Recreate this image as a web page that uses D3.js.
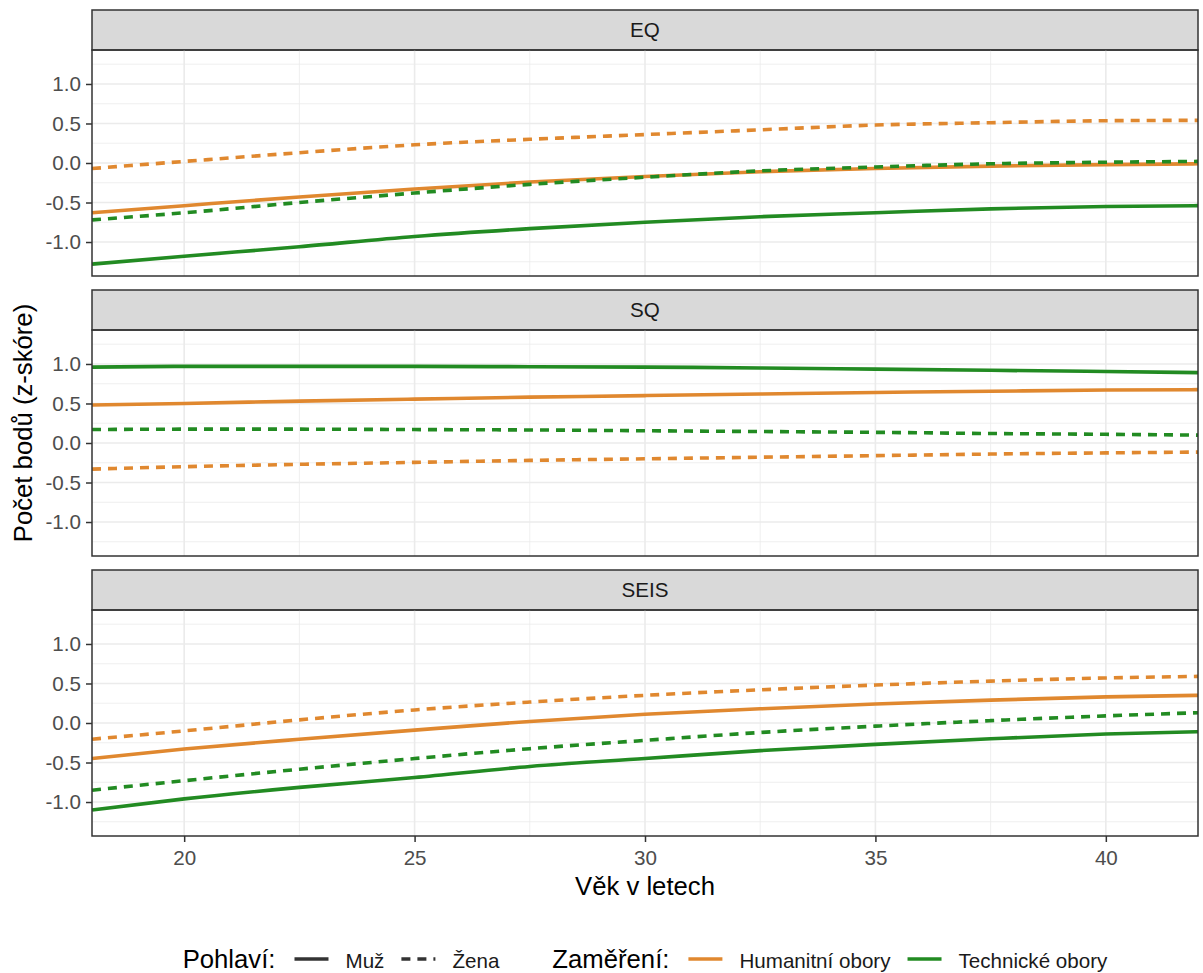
<!DOCTYPE html>
<html>
<head>
<meta charset="utf-8">
<script src="https://cdn.jsdelivr.net/npm/d3@7"></script>
<style>
	body { margin: 0; background: #fff; }
	svg text { font-family: "Liberation Sans", Arial, sans-serif; }
</style>
</head>
<body>
<svg id="graf" width="1203" height="973"></svg>
<script>
"use strict";

// data: věk (x) and z-score per facet / field / sex
const vek = [18, 20, 22.5, 25, 27.5, 30, 32.5, 35, 37.5, 40, 42];
const fasety = ["EQ", "SQ", "SEIS"];
const pohlavi = ["Muž", "Žena"];
const zamereni = ["Humanitní obory", "Technické obory"];
const xTicks = [20, 25, 30, 35, 40];
const yTicks = [-1, -0.5, 0, 0.5, 1];

const eqHumMuz    = [-0.63, -0.54, -0.43, -0.33, -0.24, -0.17, -0.11, -0.07, -0.04, -0.02, -0.01];
const eqHumZena   = [-0.07, 0.02, 0.13, 0.23, 0.30, 0.36, 0.42, 0.48, 0.51, 0.535, 0.54];
const eqTechMuz   = [-1.28, -1.18, -1.06, -0.93, -0.83, -0.75, -0.68, -0.63, -0.58, -0.55, -0.54];
const eqTechZena  = [-0.72, -0.63, -0.50, -0.38, -0.27, -0.18, -0.10, -0.05, -0.01, 0.01, 0.02];

const sqHumMuz    = [0.48, 0.50, 0.53, 0.555, 0.58, 0.60, 0.62, 0.64, 0.655, 0.67, 0.675];
const sqHumZena   = [-0.33, -0.30, -0.27, -0.245, -0.22, -0.20, -0.18, -0.16, -0.14, -0.125, -0.115];
const sqTechMuz   = [0.96, 0.97, 0.97, 0.97, 0.965, 0.96, 0.95, 0.935, 0.92, 0.905, 0.89];
const sqTechZena  = [0.17, 0.175, 0.175, 0.17, 0.165, 0.155, 0.145, 0.135, 0.12, 0.11, 0.10];

const seisHumMuz   = [-0.45, -0.33, -0.205, -0.09, 0.02, 0.11, 0.18, 0.24, 0.29, 0.33, 0.35];
const seisHumZena  = [-0.205, -0.10, 0.04, 0.165, 0.265, 0.35, 0.42, 0.48, 0.53, 0.57, 0.59];
const seisTechMuz  = [-1.10, -0.96, -0.815, -0.69, -0.55, -0.45, -0.35, -0.27, -0.20, -0.14, -0.11];
const seisTechZena = [-0.85, -0.73, -0.585, -0.45, -0.325, -0.22, -0.12, -0.04, 0.03, 0.09, 0.13];

const hodnoty = {
	EQ:   [eqHumMuz, eqHumZena, eqTechMuz, eqTechZena],
	SQ:   [sqHumMuz, sqHumZena, sqTechMuz, sqTechZena],
	SEIS: [seisHumMuz, seisHumZena, seisTechMuz, seisTechZena]
};

const barvy = { "Humanitní obory": "#e0882f", "Technické obory": "#228b22" };
const carkovani = { "Muž": null, "Žena": "9,7" };

// layout (ggplot theme_bw, base ~25.7px)
const gauche = 92, droite = 1198;
const stripHt = 40, panelHt = 226, pas = 280, haut0 = 10;
const fsTitre = 25.7, fsTexte = 20.6;

const svg = d3.select("#graf");
const x = d3.scaleLinear().domain([18, 42]).range([gauche, droite]);
const minorX = [22.5, 27.5, 32.5, 37.5];
const minorY = [-1.25, -0.75, -0.25, 0.25, 0.75, 1.25];

const line = y => d3.line()
	.x((d, i) => x(vek[i]))
	.y(d => y(d))
	.curve(d3.curveMonotoneX);

fasety.forEach((f, k) => {
	const top = haut0 + k * pas + stripHt;
	const bottom = top + panelHt;
	const y = d3.scaleLinear().domain([-1.43, 1.43]).range([bottom, top]);
	const g = svg.append("g").attr("class", "panel " + f);

	// strip
	g.append("rect")
		.attr("x", gauche).attr("y", top - stripHt)
		.attr("width", droite - gauche).attr("height", stripHt)
		.attr("fill", "#d9d9d9").attr("stroke", "#333").attr("stroke-width", 1.5);
	g.append("text")
		.attr("x", (gauche + droite) / 2).attr("y", top - stripHt / 2)
		.attr("dy", "0.35em").attr("text-anchor", "middle")
		.attr("font-size", fsTexte).attr("fill", "#1a1a1a")
		.text(f);

	// grilles
	const grid = g.append("g").attr("class", "grilles");
	grid.selectAll(".minX").data(minorX).enter().append("line")
		.attr("x1", d => x(d)).attr("x2", d => x(d)).attr("y1", top).attr("y2", bottom)
		.attr("stroke", "#ebebeb").attr("stroke-width", 0.8);
	grid.selectAll(".minY").data(minorY).enter().append("line")
		.attr("y1", d => y(d)).attr("y2", d => y(d)).attr("x1", gauche).attr("x2", droite)
		.attr("stroke", "#ebebeb").attr("stroke-width", 0.8);
	grid.selectAll(".majX").data(xTicks).enter().append("line")
		.attr("x1", d => x(d)).attr("x2", d => x(d)).attr("y1", top).attr("y2", bottom)
		.attr("stroke", "#ebebeb").attr("stroke-width", 1.6);
	grid.selectAll(".majY").data(yTicks).enter().append("line")
		.attr("y1", d => y(d)).attr("y2", d => y(d)).attr("x1", gauche).attr("x2", droite)
		.attr("stroke", "#ebebeb").attr("stroke-width", 1.6);

	// courbes
	const serie = [];
	zamereni.forEach((z, zi) => pohlavi.forEach((p, pi) => {
		serie.push({ z: z, p: p, v: hodnoty[f][zi * 2 + pi] });
	}));
	g.append("g").selectAll("path").data(serie).enter().append("path")
		.attr("d", d => line(y)(d.v))
		.attr("fill", "none")
		.attr("stroke", d => barvy[d.z])
		.attr("stroke-width", 3.6)
		.attr("stroke-dasharray", d => carkovani[d.p]);

	// cadre
	g.append("rect")
		.attr("x", gauche).attr("y", top)
		.attr("width", droite - gauche).attr("height", panelHt)
		.attr("fill", "none").attr("stroke", "#333").attr("stroke-width", 1.5);

	// axe Y
	const ay = g.append("g")
		.attr("transform", "translate(" + gauche + ",0)")
		.call(d3.axisLeft(y).tickValues(yTicks).tickSize(6).tickPadding(5).tickFormat(d => d.toFixed(1)));
	ay.select(".domain").remove();
	ay.selectAll("line").attr("stroke", "#333").attr("stroke-width", 1.5);
	ay.selectAll("text").attr("font-size", fsTexte).attr("fill", "#4d4d4d");

	if (k === fasety.length - 1) {
		const ax = g.append("g")
			.attr("transform", "translate(0," + bottom + ")")
			.call(d3.axisBottom(x).tickValues(xTicks).tickSize(6).tickPadding(8));
		ax.select(".domain").remove();
		ax.selectAll("line").attr("stroke", "#333").attr("stroke-width", 1.5);
		ax.selectAll("text").attr("font-size", fsTexte).attr("fill", "#4d4d4d");
	}
});

// titres des axes
svg.append("text")
	.attr("transform", "translate(32," + ((haut0 + haut0 + 2 * pas + stripHt + panelHt) / 2) + ") rotate(-90)")
	.attr("text-anchor", "middle").attr("font-size", fsTitre).attr("fill", "#000")
	.text("Počet bodů (z-skóre)");
svg.append("text")
	.attr("x", (gauche + droite) / 2).attr("y", 895)
	.attr("text-anchor", "middle").attr("font-size", fsTitre).attr("fill", "#000")
	.text("Věk v letech");

// légende
const leg = svg.append("g").attr("class", "legende");
const base = 968, keyY = 959;
let cx = 0;
const titre = t => {
	const n = leg.append("text").attr("x", cx).attr("y", base).attr("font-size", fsTitre).text(t);
	cx += n.node().getComputedTextLength() + 19;
};
const cle = (couleur, dash, t, fin) => {
	leg.append("line")
		.attr("x1", cx).attr("x2", cx + 34).attr("y1", keyY).attr("y2", keyY)
		.attr("stroke", couleur).attr("stroke-width", 3.6)
		.attr("stroke-dasharray", dash);
	cx += 34 + 17;
	const n = leg.append("text").attr("x", cx).attr("y", base).attr("font-size", fsTexte).attr("fill", "#1a1a1a").text(t);
	cx += n.node().getComputedTextLength() + fin;
};
titre("Pohlaví:");
pohlavi.forEach((p, i) => cle("#333", carkovani[p], p, i === 0 ? 17 : 53));
titre("Zaměření:");
zamereni.forEach((z, i) => cle(barvy[z], null, z, 17));
cx -= 17;
leg.attr("transform", "translate(" + ((gauche + droite) / 2 - cx / 2) + ",0)");
</script>
</body>
</html>
